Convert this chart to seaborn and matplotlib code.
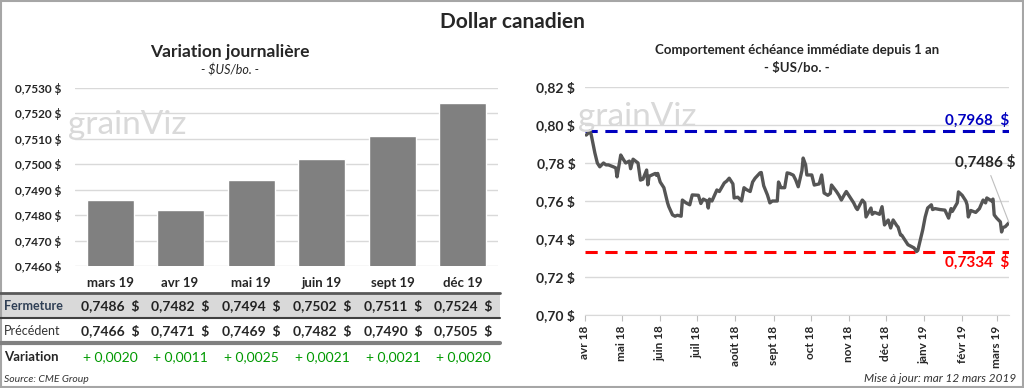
import numpy as np
import pandas as pd
import matplotlib
matplotlib.use("Agg")
import matplotlib.pyplot as plt
from matplotlib.patches import Rectangle
from matplotlib.lines import Line2D
import seaborn as sns

# --- données : variation journalière ---
mois = ["mars 19", "avr 19", "mai 19", "juin 19", "sept 19", "déc 19"]
fermeture = [0.7486, 0.7482, 0.7494, 0.7502, 0.7511, 0.7524]
precedent = [0.7466, 0.7471, 0.7469, 0.7482, 0.7490, 0.7505]
variation = [0.0020, 0.0011, 0.0025, 0.0021, 0.0021, 0.0020]

# --- données : échéance immédiate depuis 1 an ---
dates = [
    "2018-04-02", "2018-04-04", "2018-04-05", "2018-04-06", "2018-04-09", "2018-04-11",
    "2018-04-13", "2018-04-16", "2018-04-18", "2018-04-20", "2018-04-24", "2018-04-26",
    "2018-04-27", "2018-04-30", "2018-05-02", "2018-05-04", "2018-05-07", "2018-05-08",
    "2018-05-10", "2018-05-14", "2018-05-16", "2018-05-18", "2018-05-21", "2018-05-22",
    "2018-05-23", "2018-05-28", "2018-05-29", "2018-05-30", "2018-06-01", "2018-06-04",
    "2018-06-07", "2018-06-08", "2018-06-11", "2018-06-13", "2018-06-15", "2018-06-18",
    "2018-06-19", "2018-06-22", "2018-06-25", "2018-06-27", "2018-07-02", "2018-07-04",
    "2018-07-06", "2018-07-09", "2018-07-10", "2018-07-11", "2018-07-13", "2018-07-17",
    "2018-07-19", "2018-07-23", "2018-07-25", "2018-07-27", "2018-07-30", "2018-07-31",
    "2018-08-03", "2018-08-06", "2018-08-08", "2018-08-10", "2018-08-13", "2018-08-15",
    "2018-08-17", "2018-08-21", "2018-08-22", "2018-08-24", "2018-08-27", "2018-08-29",
    "2018-08-31", "2018-09-04", "2018-09-05", "2018-09-07", "2018-09-10", "2018-09-12",
    "2018-09-14", "2018-09-17", "2018-09-19", "2018-09-21", "2018-09-24", "2018-09-25",
    "2018-09-27", "2018-09-28", "2018-10-02", "2018-10-04", "2018-10-08", "2018-10-10",
    "2018-10-12", "2018-10-15", "2018-10-17", "2018-10-18", "2018-10-22", "2018-10-24",
    "2018-10-26", "2018-10-29", "2018-10-30", "2018-11-01", "2018-11-05", "2018-11-07",
    "2018-11-08", "2018-11-12", "2018-11-14", "2018-11-15", "2018-11-19", "2018-11-20",
    "2018-11-22", "2018-11-26", "2018-11-28", "2018-11-30", "2018-12-03", "2018-12-05",
    "2018-12-07", "2018-12-10", "2018-12-11", "2018-12-13", "2018-12-14", "2018-12-18",
    "2018-12-19", "2018-12-21", "2018-12-24", "2018-12-26", "2018-12-27", "2018-12-31",
    "2019-01-02", "2019-01-04", "2019-01-07", "2019-01-08", "2019-01-10", "2019-01-14",
    "2019-01-18", "2019-01-21", "2019-01-23", "2019-01-24", "2019-01-28", "2019-01-29",
    "2019-02-01", "2019-02-04", "2019-02-05", "2019-02-06", "2019-02-08", "2019-02-12",
    "2019-02-15", "2019-02-18", "2019-02-20", "2019-02-21", "2019-02-25", "2019-02-26",
    "2019-02-27", "2019-03-01", "2019-03-04", "2019-03-05", "2019-03-06", "2019-03-08",
    "2019-03-11",
]
cours = [
    0.7947, 0.7960, 0.7968, 0.7950, 0.7853, 0.7800,
    0.7780, 0.7800, 0.7790, 0.7790, 0.7780, 0.7774,
    0.7727, 0.7842, 0.7820, 0.7800, 0.7810, 0.7770,
    0.7820, 0.7800, 0.7710, 0.7715, 0.7763, 0.7685,
    0.7730, 0.7745, 0.7735, 0.7745, 0.7700, 0.7670,
    0.7590, 0.7570, 0.7527, 0.7520, 0.7525, 0.7520,
    0.7605, 0.7590, 0.7580, 0.7632, 0.7630, 0.7587,
    0.7610, 0.7600, 0.7563, 0.7610, 0.7600, 0.7658,
    0.7650, 0.7695, 0.7705, 0.7720, 0.7690, 0.7616,
    0.7620, 0.7600, 0.7670, 0.7660, 0.7650, 0.7700,
    0.7720, 0.7748, 0.7750, 0.7680, 0.7632, 0.7590,
    0.7600, 0.7600, 0.7700, 0.7670, 0.7670, 0.7748,
    0.7745, 0.7736, 0.7710, 0.7675, 0.7760, 0.7826,
    0.7790, 0.7737, 0.7737, 0.7684, 0.7690, 0.7737,
    0.7642, 0.7630, 0.7640, 0.7684, 0.7650, 0.7630,
    0.7605, 0.7640, 0.7650, 0.7630, 0.7590, 0.7563,
    0.7555, 0.7605, 0.7590, 0.7516, 0.7563, 0.7530,
    0.7540, 0.7530, 0.7570, 0.7474, 0.7500, 0.7458,
    0.7500, 0.7470, 0.7463, 0.7421, 0.7420, 0.7380,
    0.7370, 0.7363, 0.7353, 0.7334, 0.7340, 0.7448,
    0.7516, 0.7563, 0.7580, 0.7555, 0.7560, 0.7555,
    0.7552, 0.7510, 0.7560, 0.7545, 0.7590, 0.7648,
    0.7630, 0.7600, 0.7580, 0.7516, 0.7550, 0.7540,
    0.7560, 0.7605, 0.7590, 0.7616, 0.7600, 0.7610,
    0.7527, 0.7510, 0.7490, 0.7437, 0.7460, 0.7465,
    0.7486,
]
haut_1an = 0.7968
bas_1an = 0.7334
mois_fr = ["janv", "févr", "mars", "avr", "mai", "juin",
           "juil", "août", "sept", "oct", "nov", "déc"]

sns.set_style("white")
plt.rcParams["font.family"] = ["Lato", "DejaVu Sans"]

fig = plt.figure(figsize=(10.24, 3.88), dpi=100)
W, H = 1024, 388


def fx(px):
    return px / W


def fy(py):
    return 1 - py / H


def virg(fmt, v):
    return (fmt % v).replace(".", ",")


# cadre
fig.patches.append(Rectangle((0.001, 0.002), 0.998, 0.995, transform=fig.transFigure,
                             fill=False, edgecolor="#a6a6a6", linewidth=1.5))

fig.text(0.5, fy(22), "Dollar canadien", ha="center", va="center",
         fontsize=15, fontweight="bold")

# ---------------- graphique à barres ----------------
ax1 = fig.add_axes([fx(75), fy(266), fx(498 - 75), (266 - 88) / H])
df_bar = pd.DataFrame({"mois": mois, "fermeture": fermeture})
sns.barplot(data=df_bar, x="mois", y="fermeture", color="#808080",
            saturation=1, width=0.66, ax=ax1)
ax1.set_ylim(0.746, 0.753)
yt1 = np.arange(0.746, 0.75301, 0.001)
ax1.set_yticks(yt1, [virg("%.4f", v) + " $" for v in yt1], fontweight="bold")
ax1.grid(axis="y", color="#d9d9d9", linewidth=1)
ax1.set_axisbelow(True)
ax1.set_xticks([])
ax1.set_xlabel("")
ax1.set_ylabel("")
for s in ax1.spines.values():
    s.set_visible(False)
ax1.tick_params(axis="y", length=0, pad=10, labelsize=8.5)

fig.text(fx(230), fy(52), "Variation journalière", ha="center", va="center",
         fontsize=12.5, fontweight="bold")
fig.text(fx(230), fy(70), "- $US/bo. -", ha="center", va="center",
         fontsize=9, style="italic")
fig.text(fx(68), fy(125), "grainViz", ha="left", va="center", fontsize=24,
         color="#d9d9d9", zorder=0)

# ---------------- tableau ----------------
cols = [110, 180, 251, 322, 393, 463]
fig.patches.append(Rectangle((fx(0), fy(318)), fx(500), (318 - 293) / H,
                             transform=fig.transFigure, facecolor="#d9d9d9",
                             edgecolor="none", zorder=0))
for yy, lw, c in [(293, 2.0, "#595959"), (318, 1.5, "#404040"), (343, 3.0, "#808080")]:
    fig.add_artist(Line2D([fx(0), fx(500)], [fy(yy), fy(yy)], color=c, linewidth=lw))

for i, x in enumerate(cols):
    fig.text(fx(x), fy(283), mois[i], ha="center", va="center",
             fontsize=9.5, fontweight="bold")
    fig.text(fx(x), fy(306), virg("%.4f", fermeture[i]) + "  $",
             ha="center", va="center", fontsize=10, fontweight="bold", color="#222222")
    fig.text(fx(x), fy(331), virg("%.4f", precedent[i]) + "  $",
             ha="center", va="center", fontsize=10, fontweight="bold")
    fig.text(fx(x), fy(357), "+ " + virg("%.4f", variation[i]),
             ha="center", va="center", fontsize=10, color="#009900")

fig.text(fx(4), fy(306), "Fermeture", ha="left", va="center", fontsize=9,
         fontweight="bold", color="#2f3f55")
fig.text(fx(4), fy(331), "Précédent", ha="left", va="center", fontsize=9,
         color="#333333")
fig.text(fx(4), fy(357), "Variation", ha="left", va="center", fontsize=9.5,
         fontweight="bold")
fig.text(fx(4), fy(380), "Source: CME Group", ha="left", va="center",
         fontsize=7.5, style="italic", color="#333333")

# ---------------- graphique linéaire ----------------
ax2 = fig.add_axes([fx(585), fy(315), fx(1009 - 585), (315 - 87) / H])
df_line = pd.DataFrame({"date": pd.to_datetime(dates), "cours": cours})
ax2.axhline(haut_1an, color="#0000c0", linestyle=(0, (4, 2.5)), linewidth=2.2, zorder=1)
ax2.axhline(bas_1an, color="#ff0000", linestyle=(0, (4, 2.5)), linewidth=2.2, zorder=1)
sns.lineplot(data=df_line, x="date", y="cours", color="#555555", linewidth=2.4,
             ax=ax2, zorder=3)
ax2.set_xlim(pd.Timestamp("2018-04-01"), pd.Timestamp("2019-03-11"))
ax2.set_ylim(0.70, 0.82)
yt2 = np.arange(0.70, 0.8201, 0.02)
ax2.set_yticks(yt2, [virg("%.2f", v) + " $" for v in yt2], fontweight="bold")
xt2 = pd.date_range("2018-04-01", "2019-03-01", freq="MS")
ax2.set_xticks(xt2, [mois_fr[d.month - 1] + " " + d.strftime("%y") for d in xt2],
               fontweight="bold", rotation=90)
ax2.grid(axis="y", color="#d9d9d9", linewidth=1)
ax2.set_axisbelow(True)
ax2.set_xlabel("")
ax2.set_ylabel("")
for k, s in ax2.spines.items():
    s.set_visible(k == "bottom")
ax2.spines["bottom"].set_color("#d9d9d9")
ax2.tick_params(axis="y", length=0, pad=7, labelsize=10)
ax2.tick_params(axis="x", length=4, color="#bfbfbf", labelsize=8.5, bottom=True)

x_fin = pd.Timestamp("2019-03-11")
ax2.text(x_fin, haut_1an + 0.0015, virg("%.4f", haut_1an) + "  $",
         ha="right", va="bottom", fontsize=11, fontweight="bold", color="#0000c0")
ax2.text(x_fin, bas_1an - 0.0015, virg("%.4f", bas_1an) + "  $",
         ha="right", va="top", fontsize=11, fontweight="bold", color="#ff0000")
ax2.annotate(virg("%.4f", cours[-1]) + " $",
             xy=(pd.Timestamp(dates[-1]), cours[-1]),
             xytext=(pd.Timestamp("2019-02-20"), 0.7805),
             ha="center", va="center", fontsize=11, fontweight="bold",
             arrowprops=dict(arrowstyle="-", color="#bfbfbf", linewidth=0.8,
                             shrinkA=2, shrinkB=0))

fig.text(fx(797), fy(50), "Comportement échéance immédiate depuis 1 an",
         ha="center", va="center", fontsize=9.5, fontweight="bold")
fig.text(fx(797), fy(68), "- $US/bo. -", ha="center", va="center",
         fontsize=9.5, fontweight="bold")
fig.text(fx(578), fy(117), "grainViz", ha="left", va="center", fontsize=24,
         color="#d9d9d9", zorder=0)
fig.text(fx(1016), fy(379), "Mise à jour: mar 12 mars 2019", ha="right", va="center",
         fontsize=8.5, style="italic", color="#333333")

fig.savefig("out.png", dpi=100)
